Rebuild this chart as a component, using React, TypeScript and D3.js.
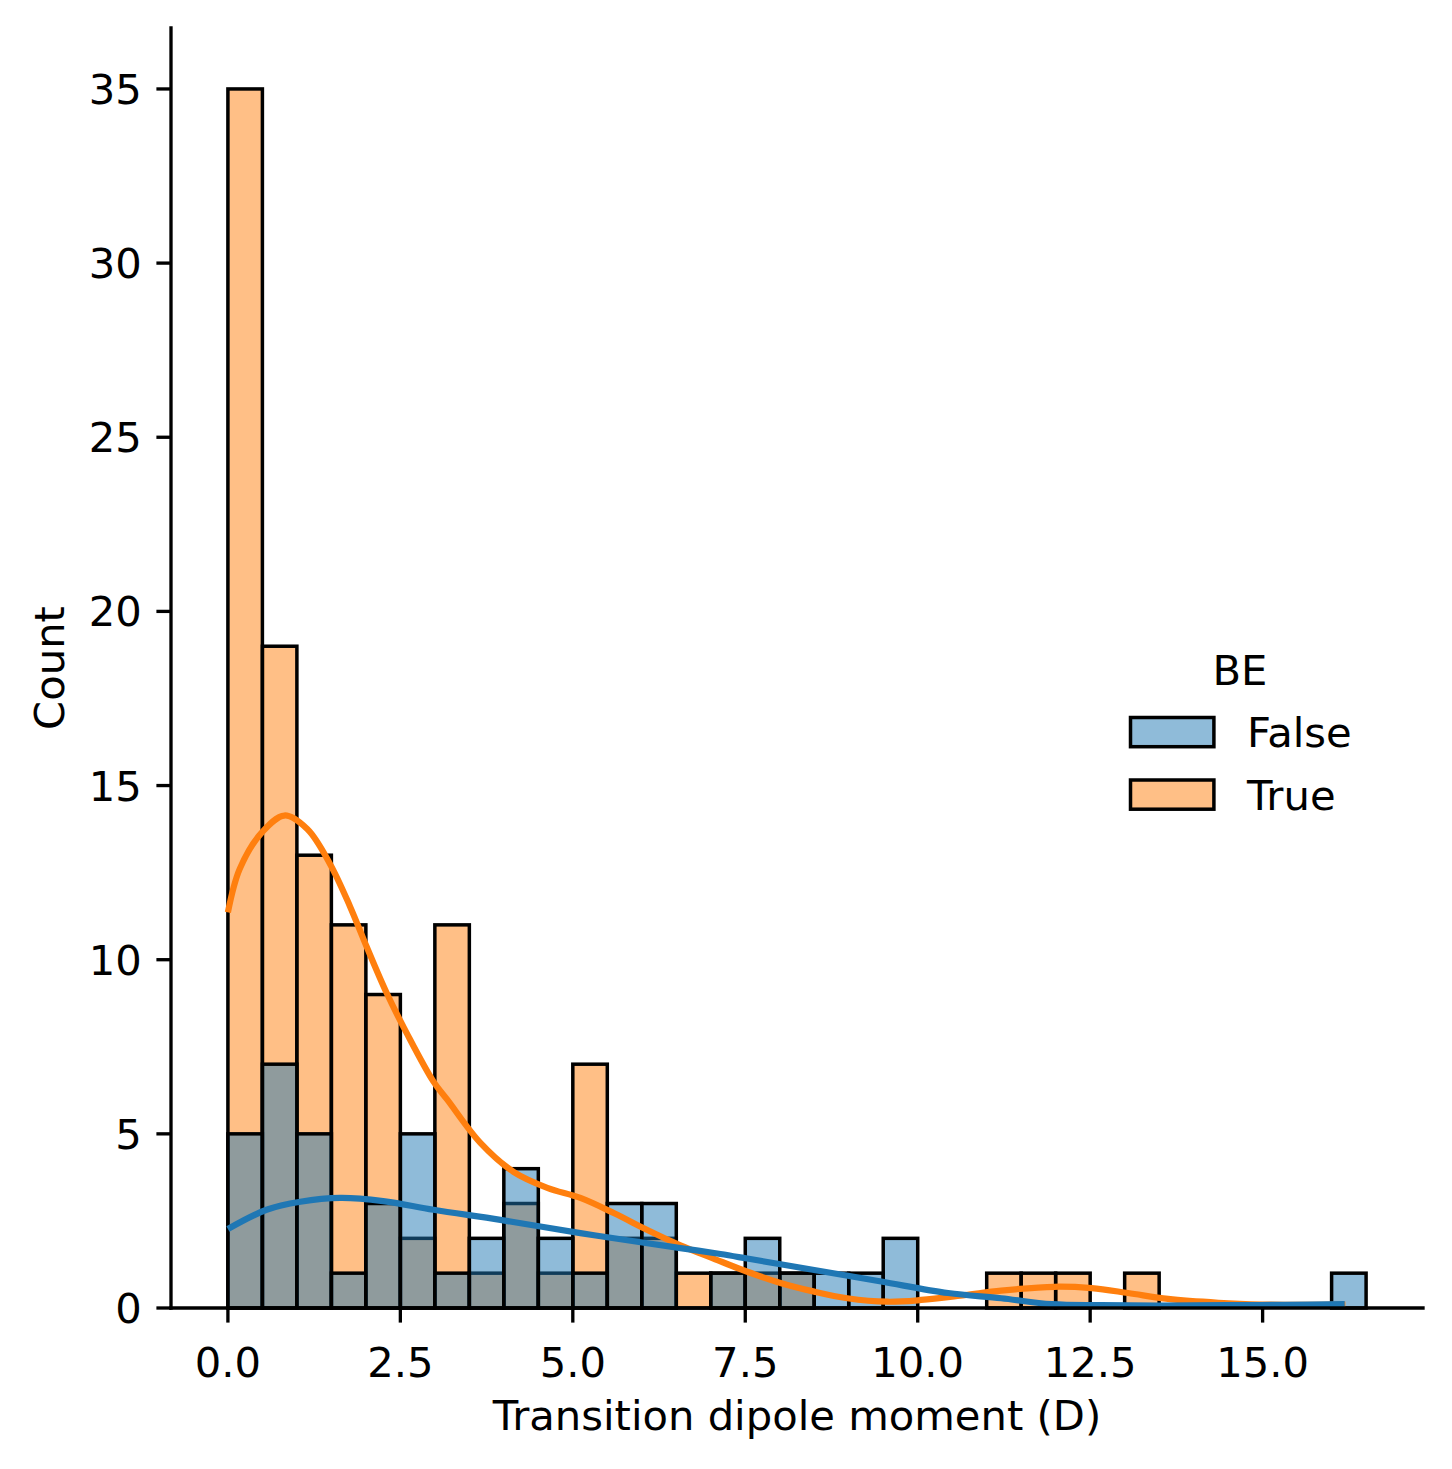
import * as d3 from 'd3';
import * as React from 'react';

// histogram bins: 0.5 wide, starting at 0
const binWidth = 0.5;
const binStarts = [
    0, 0.5, 1, 1.5, 2, 2.5, 3, 3.5, 4, 4.5, 5, 5.5, 6, 6.5, 7, 7.5, 8,
    8.5, 9, 9.5, 10, 10.5, 11, 11.5, 12, 12.5, 13, 13.5, 14, 14.5, 15, 15.5, 16,
];
const falseCounts = [
    5, 7, 5, 1, 3, 5, 1, 2, 4, 2, 1, 3, 3, 0, 1, 2, 1,
    1, 1, 2, 0, 0, 0, 0, 0, 0, 0, 0, 0, 0, 0, 0, 1,
];
const trueCounts = [
    35, 19, 13, 11, 9, 2, 11, 1, 3, 1, 7, 2, 2, 1, 1, 1, 1,
    0, 0, 0, 0, 0, 1, 1, 1, 0, 1, 0, 0, 0, 0, 0, 0,
];

// kde curves (already scaled to counts)
const trueKdeX = [
    0, 0.17, 0.49, 0.82, 1.15, 1.48, 1.77, 2.01, 2.3, 2.59, 2.98, 3.18, 3.66, 4.14,
    4.63, 5.11, 5.6, 6.08, 6.56, 7.04, 7.53, 8.01, 8.5, 8.98, 9.56, 10.05, 10.68,
    11.21, 11.98, 12.52, 13.05, 13.63, 14.36, 15, 15.6, 16.2,
];
const trueKdeY = [
    11.36, 12.6, 13.65, 14.14, 13.75, 12.75, 11.53, 10.38, 9.05, 7.9, 6.5, 5.98, 4.74, 3.91,
    3.45, 3.16, 2.72, 2.24, 1.8, 1.42, 1.04, 0.72, 0.47, 0.28, 0.18, 0.23, 0.37,
    0.5, 0.61, 0.57, 0.43, 0.26, 0.15, 0.1, 0.09, 0.1,
];
const falseKdeX = [
    0, 0.56, 1.05, 1.63, 2.25, 2.98, 3.95, 5.11, 6.08, 6.56, 7.14, 7.53, 8.5, 9.47,
    10.44, 11.21, 11.94, 12.66, 13.5, 14.5, 15.3, 16.19,
];
const falseKdeY = [
    2.27, 2.82, 3.05, 3.16, 3.07, 2.82, 2.53, 2.15, 1.86, 1.72, 1.55, 1.42, 1.09, 0.76,
    0.43, 0.28, 0.11, 0.08, 0.07, 0.08, 0.09, 0.11,
];

const xTicks = [0, 2.5, 5, 7.5, 10, 12.5, 15];
const yTicks = [0, 5, 10, 15, 20, 25, 30, 35];
const legendTitle = 'BE';
const legendLabels = ['False', 'True'];

const BLUE = '#1f77b4';
const ORANGE = '#ff7f0e';
const FONT = 'DejaVu Sans';
const FS = 41.7;

export default function App() {
    const width = 1452;
    const height = 1469;
    const left = 171;
    const right = 1423;
    const top = 28;
    const bottom = 1308;

    const x = d3.scaleLinear().domain([-0.825, 17.325]).range([left, right]);
    const y = d3.scaleLinear().domain([0, 36.75]).range([bottom, top]);

    const line = d3.line<[number, number]>()
        .x(d => x(d[0]))
        .y(d => y(d[1]))
        .curve(d3.curveCatmullRom.alpha(0.5));

    const trueKde = trueKdeX.map((v, i) => [v, trueKdeY[i]] as [number, number]);
    const falseKde = falseKdeX.map((v, i) => [v, falseKdeY[i]] as [number, number]);

    const bars = (counts: number[], color: string, key: string) =>
        counts.map((c, i) => c > 0 ? (
            <rect
                key={key + i}
                x={x(binStarts[i])}
                y={y(c)}
                width={x(binStarts[i] + binWidth) - x(binStarts[i])}
                height={y(0) - y(c)}
                fill={color}
                fillOpacity={0.5}
                stroke="#000"
                strokeWidth={3.5}
            />
        ) : null);

    const tickLen = 14.6;
    const legendColors = [BLUE, ORANGE];

    return (
        <svg
            width={width}
            height={height}
            style={{ position: 'absolute', left: 0, top: 0, background: '#fff' }}
            fontFamily={FONT}
        >
            <rect x={0} y={0} width={width} height={height} fill="#fff" />
            {/* True drawn first, False layered on top */}
            {bars(trueCounts, ORANGE, 't')}
            {bars(falseCounts, BLUE, 'f')}

            <path d={line(trueKde) || ''} fill="none" stroke={ORANGE} strokeWidth={6.25} strokeLinecap="butt" />
            <path d={line(falseKde) || ''} fill="none" stroke={BLUE} strokeWidth={6.25} strokeLinecap="butt" />

            {/* spines */}
            <line x1={left} x2={left} y1={top} y2={bottom} stroke="#000" strokeWidth={3.33} strokeLinecap="square" />
            <line x1={left} x2={right} y1={bottom} y2={bottom} stroke="#000" strokeWidth={3.33} strokeLinecap="square" />

            {xTicks.map(t => (
                <g key={'xt' + t} transform={`translate(${x(t)},${bottom})`}>
                    <line y1={0} y2={tickLen} stroke="#000" strokeWidth={3.33} />
                    <text y={69} textAnchor="middle" fontSize={FS} fill="#000">{t.toFixed(1)}</text>
                </g>
            ))}
            {yTicks.map(t => (
                <g key={'yt' + t} transform={`translate(${left},${y(t)})`}>
                    <line x1={0} x2={-tickLen} stroke="#000" strokeWidth={3.33} />
                    <text x={-29.2} y={15} textAnchor="end" fontSize={FS} fill="#000">{t}</text>
                </g>
            ))}

            <text x={(left + right) / 2} y={1430} textAnchor="middle" fontSize={FS} fill="#000">
                Transition dipole moment (D)
            </text>
            <text
                transform={`translate(64,${(top + bottom) / 2}) rotate(-90)`}
                textAnchor="middle"
                fontSize={FS}
                fill="#000"
            >
                Count
            </text>

            {/* legend */}
            <text x={1240} y={685} textAnchor="middle" fontSize={FS} fill="#000">{legendTitle}</text>
            {legendLabels.map((lab, i) => (
                <g key={lab} transform={`translate(0,${i * 62.5})`}>
                    <rect
                        x={1130.5}
                        y={717.5}
                        width={83.4}
                        height={29.2}
                        fill={legendColors[i]}
                        fillOpacity={0.5}
                        stroke="#000"
                        strokeWidth={3.5}
                    />
                    <text x={1247} y={747} fontSize={FS} fill="#000">{lab}</text>
                </g>
            ))}
        </svg>
    );
}
